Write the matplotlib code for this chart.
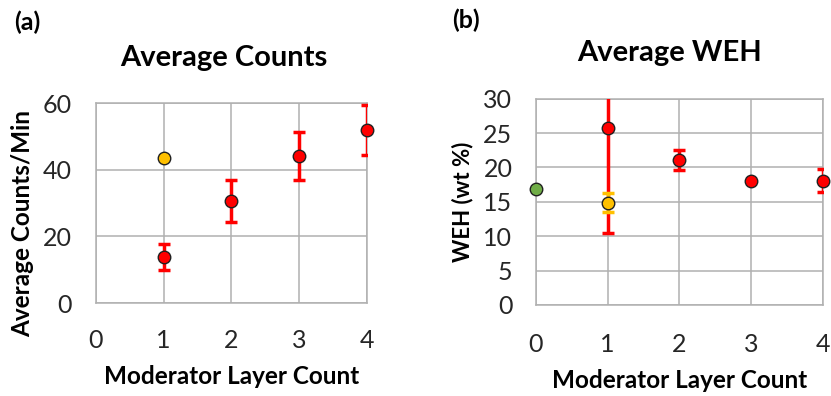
import numpy as np
import matplotlib
matplotlib.use("Agg")
import matplotlib.pyplot as plt

plt.rcParams['font.family'] = ['Lato', 'DejaVu Sans']

# (a) average counts per minute
layers_a = [1, 2, 3, 4]
counts = [13.7, 30.6, 44.1, 51.8]
counts_err = [3.9, 6.4, 7.2, 7.5]
counts_yellow_x = [1]
counts_yellow = [43.5]

# (b) average WEH
layers_b = [1, 2, 3, 4]
weh = [25.8, 21.1, 18.1, 18.1]
weh_err = [15.4, 1.4, 0.0, 1.7]
weh_yellow_x = [1]
weh_yellow = [14.9]
weh_yellow_err = [1.35]
weh_green_x = [0]
weh_green = [16.9]

RED = '#FF0000'
YELLOW = '#FFC000'
GREEN = '#70AD47'
GRID = '#B0B0B0'
TICK = '#262626'

fig = plt.figure(figsize=(8.31, 3.96), dpi=100)
ax1 = fig.add_axes([0.1152, 0.2348, 0.3264, 0.505])
ax2 = fig.add_axes([0.645, 0.2298, 0.345, 0.521])


def style(ax, ymax, ystep, xpad):
    ax.set_xlim(0, 4)
    ax.set_ylim(0, ymax)
    ax.set_xticks(range(0, 5))
    ax.set_yticks(np.arange(0, ymax + 1, ystep))
    ax.grid(True, color=GRID, lw=1.1)
    ax.set_axisbelow(True)
    for s in ax.spines.values():
        s.set_color(GRID)
        s.set_linewidth(1.1)
    ax.tick_params(length=0, labelsize=18, labelcolor=TICK)
    ax.tick_params(axis='y', pad=17)
    ax.tick_params(axis='x', pad=xpad)


def points(ax, x, y, err, color):
    if err is not None:
        ax.errorbar(x, y, yerr=err, fmt='none', ecolor=color, elinewidth=2.5,
                    capsize=4, capthick=2.5, zorder=3)
    ax.plot(x, y, 'o', ms=9, mfc=color, mec='#202020', mew=1, zorder=4,
            clip_on=False)


def labels(ax, title, tx, ty, xlab, xy, ylab, yx, yy, ysize):
    ax.text(tx, ty, title, transform=ax.transAxes, ha='center', va='center',
            fontsize=21, fontweight='bold')
    ax.set_xlabel(xlab, fontsize=17.5, fontweight='bold', va='center')
    ax.xaxis.set_label_coords(0.502, xy)
    ax.set_ylabel(ylab, fontsize=ysize, fontweight='bold', va='center')
    ax.yaxis.set_label_coords(yx, yy)


style(ax1, 60, 20, 19)
points(ax1, layers_a, counts, counts_err, RED)
points(ax1, counts_yellow_x, counts_yellow, None, YELLOW)
labels(ax1, 'Average Counts', 0.473, 1.225, 'Moderator Layer Count', -0.365,
       'Average Counts/Min', -0.268, 0.40, 17.5)

style(ax2, 30, 5, 20)
points(ax2, layers_b, weh, weh_err, RED)
points(ax2, weh_yellow_x, weh_yellow, weh_yellow_err, YELLOW)
points(ax2, weh_green_x, weh_green, None, GREEN)
labels(ax2, 'Average WEH', 0.467, 1.222, 'Moderator Layer Count', -0.364,
       'WEH (wt %)', -0.255, 0.50, 16)

fig.text(27 / 831, 1 - 22 / 396, '(a)', fontsize=18, fontweight='bold',
         ha='center', va='center')
fig.text(466 / 831, 1 - 20 / 396, '(b)', fontsize=18, fontweight='bold',
         ha='center', va='center')

fig.savefig('out.png', dpi=100, facecolor='white')
